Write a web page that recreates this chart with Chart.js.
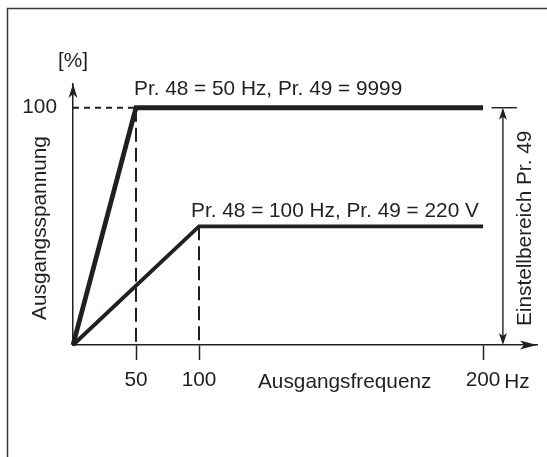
<!DOCTYPE html>
<html>
<head>
<meta charset="utf-8">
<script src="https://cdn.jsdelivr.net/npm/chart.js@4.4.1/dist/chart.umd.min.js"></script>
<style>
  html, body { margin: 0; padding: 0; background: #fff; }
  #wrap { width: 547px; height: 457px; position: relative; }
</style>
</head>
<body>
<div id="wrap"><canvas id="c"></canvas></div>
<script>
// Output voltage vs. output frequency for two base-frequency settings
const freqA = [0, 50, 200];          // Hz  (Pr. 48 = 50 Hz)
const voltA = [0, 100, 100];         // %
const freqB = [0, 100, 200];         // Hz  (Pr. 48 = 100 Hz)
const voltB = [0, 50, 50];           // %
const freqTicks = [50, 100, 200];
const voltTicks = [100];
const labelA = 'Pr. 48 = 50 Hz, Pr. 49 = 9999';
const labelB = 'Pr. 48 = 100 Hz, Pr. 49 = 220 V';
const rangeLow = 0, rangeHigh = 100; // adjustable range of Pr. 49 (%)
const rangeFreq = 207, capFrom = 203, capTo = 212; // bracket placement along the frequency axis

const INK = '#231f20';
const FONT = "'Liberation Sans', Arial, Helvetica, sans-serif";
const FS = 20.8;

// Schematic frequency axis: the part above the bend is drawn stretched
const BEND_AT = 100, BEND_GAIN = 2.254;
const bend = v => v <= BEND_AT ? v : BEND_AT + (v - BEND_AT) * BEND_GAIN;
const unbend = t => t <= BEND_AT ? t : BEND_AT + (t - BEND_AT) / BEND_GAIN;

class BentScale extends Chart.LinearScale {
  getPixelForValue(v) {
    const a = bend(this.min), b = bend(this.max);
    return this.getPixelForDecimal((bend(v) - a) / (b - a));
  }
  getValueForPixel(p) {
    const a = bend(this.min), b = bend(this.max);
    return unbend(a + this.getDecimalForPixel(p) * (b - a));
  }
}
BentScale.id = 'bent';
BentScale.defaults = Chart.LinearScale.defaults;
Chart.register(BentScale);

const pts = (xs, ys) => xs.map((x, i) => ({ x, y: ys[i] }));

function arrowHead(ctx, x, y, dx, dy, len, half, notch) {
  const px = -dy, py = dx;
  ctx.beginPath();
  ctx.moveTo(x, y);
  ctx.lineTo(x - dx * len + px * half, y - dy * len + py * half);
  ctx.lineTo(x - dx * (len - notch), y - dy * (len - notch));
  ctx.lineTo(x - dx * len - px * half, y - dy * len - py * half);
  ctx.closePath();
  ctx.fill();
}

const decor = {
  id: 'decor',
  beforeDraw(chart) {
    const ctx = chart.ctx;
    ctx.save();
    ctx.strokeStyle = '#3a3a3a';
    ctx.lineWidth = 1.5;
    ctx.beginPath();
    ctx.moveTo(7.5, 457);
    ctx.lineTo(7.5, 8.5);
    ctx.lineTo(547, 8.5);
    ctx.stroke();
    ctx.restore();
  },
  afterDraw(chart) {
    const ctx = chart.ctx, xs = chart.scales.x, ys = chart.scales.y, ca = chart.chartArea;
    ctx.save();
    ctx.fillStyle = INK;
    ctx.strokeStyle = INK;

    // axis arrow heads
    arrowHead(ctx, ca.left, ca.top, 0, -1, 14, 4.5, 4);
    arrowHead(ctx, ca.right, ca.bottom, 1, 0, 17, 4.5, 4);

    // Pr. 49 range bracket
    const bx = xs.getPixelForValue(rangeFreq);
    const yTop = ys.getPixelForValue(rangeHigh), yBot = ys.getPixelForValue(rangeLow);
    ctx.lineWidth = 1.4;
    ctx.beginPath();
    ctx.moveTo(bx, yTop + 6);
    ctx.lineTo(bx, yBot - 6);
    ctx.stroke();
    arrowHead(ctx, bx, yTop, 0, -1, 12, 4, 3);
    arrowHead(ctx, bx, yBot, 0, 1, 12, 4, 3);
    ctx.beginPath();
    ctx.moveTo(xs.getPixelForValue(capFrom), yTop);
    ctx.lineTo(xs.getPixelForValue(capTo), yTop);
    ctx.stroke();

    // texts
    ctx.font = FS + 'px ' + FONT;
    ctx.textBaseline = 'alphabetic';

    ctx.textAlign = 'center';
    ctx.fillText('[%]', ca.left, 67);

    ctx.textAlign = 'left';
    ctx.fillText(labelA, xs.getPixelForValue(freqA[1]) - 2, ys.getPixelForValue(voltA[1]) - 13);
    ctx.fillText(labelB, xs.getPixelForValue(freqB[1]) - 8, ys.getPixelForValue(voltB[1]) - 9);

    ctx.fillText('Ausgangsfrequenz', 258, 388);
    const last = freqTicks[freqTicks.length - 1];
    const wNum = ctx.measureText(String(last)).width;
    ctx.fillText(' Hz', xs.getPixelForValue(last) + wNum / 2 - 2, 388);

    ctx.textAlign = 'center';
    ctx.save();
    ctx.translate(46, 228);
    ctx.rotate(-Math.PI / 2);
    ctx.fillText('Ausgangsspannung', 0, 0);
    ctx.restore();

    ctx.save();
    ctx.translate(bx + 28, (yTop + yBot) / 2 + 2);
    ctx.rotate(-Math.PI / 2);
    ctx.fillText('Einstellbereich Pr. 49', 0, 0);
    ctx.restore();

    ctx.restore();
  }
};

new Chart(document.getElementById('c'), {
  type: 'line',
  data: {
    datasets: [
      { data: pts(freqA, voltA), borderColor: INK, borderWidth: 4.8, clip: false },
      { data: pts(freqB, voltB), borderColor: INK, borderWidth: 3.8, clip: false },
      { data: [{ x: 0, y: voltA[1] }, { x: freqA[1], y: voltA[1] }], borderColor: INK, borderWidth: 2, borderDash: [6, 5] },
      { data: [{ x: freqA[1], y: voltA[1] }, { x: freqA[1], y: 0 }], borderColor: INK, borderWidth: 2, borderDash: [14, 6] },
      { data: [{ x: freqB[1], y: voltB[1] }, { x: freqB[1], y: 0 }], borderColor: INK, borderWidth: 2, borderDash: [14, 6] }
    ]
  },
  options: {
    responsive: true,
    maintainAspectRatio: false,
    animation: false,
    events: [],
    layout: { padding: { left: 0, top: 84, right: 10, bottom: 0 } },
    plugins: { legend: { display: false }, tooltip: { enabled: false } },
    elements: {
      point: { radius: 0 },
      line: { tension: 0, borderJoinStyle: 'miter', borderCapStyle: 'butt', fill: false }
    },
    scales: {
      x: {
        type: 'bent', min: 0, max: 219,
        afterFit: s => { s.height = 112; },
        afterBuildTicks: s => { s.ticks = freqTicks.map(v => ({ value: v })); },
        border: { display: true, color: INK, width: 1.5 },
        grid: { display: true, drawOnChartArea: false, drawTicks: true, tickLength: 15, tickColor: INK, tickWidth: 1.5, color: INK },
        ticks: { color: INK, font: { family: FONT, size: FS }, padding: 8, maxRotation: 0, autoSkip: false, callback: v => String(v) }
      },
      y: {
        type: 'linear', min: 0, max: 110,
        afterFit: s => { s.width = 73; },
        afterBuildTicks: s => { s.ticks = voltTicks.map(v => ({ value: v })); },
        border: { display: true, color: INK, width: 1.5 },
        grid: { display: false, drawTicks: false },
        ticks: { color: INK, font: { family: FONT, size: FS }, padding: 16, callback: v => String(v) }
      }
    }
  },
  plugins: [decor]
});
</script>
</body>
</html>
